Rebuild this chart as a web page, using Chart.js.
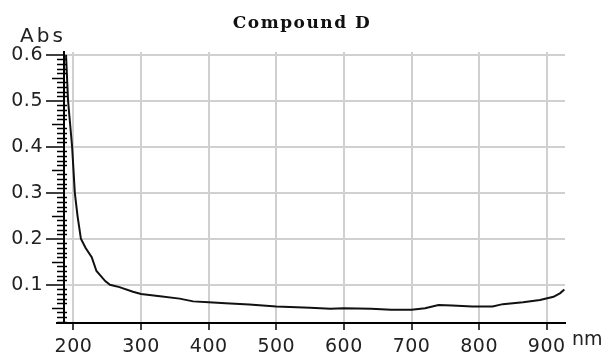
<!DOCTYPE html>
<html><head><meta charset="utf-8">
<script src="https://cdn.jsdelivr.net/npm/chart.js@4"></script>
<style>html,body{margin:0;padding:0;background:#fff;overflow:hidden}#wrap{width:608px;height:361px;position:relative}</style>
</head><body><div id="wrap"><canvas id="c"></canvas></div>
<script>
const chartTitle = 'Compound D';
const yAxisLabel = 'Abs';
const xAxisLabel = 'nm';
const wavelengths = [189,192,195,198,202,206,211,218,227,234,240,247,254,268,288,300,328,357,377,400,425,460,500,550,580,600,640,670,700,720,740,760,790,820,835,865,890,910,920,926];
const absorbance  = [0.600,0.500,0.450,0.400,0.300,0.250,0.200,0.180,0.160,0.130,0.120,0.108,0.100,0.095,0.085,0.080,0.075,0.070,0.064,0.062,0.060,0.057,0.053,0.050,0.048,0.049,0.048,0.046,0.046,0.049,0.056,0.055,0.053,0.053,0.058,0.062,0.067,0.074,0.082,0.090];
const xTicks = [200,300,400,500,600,700,800,900];
const xTickLabels = ['200','300','400','500','600','700','800','900'];
const yTicks = [0.1,0.2,0.3,0.4,0.5,0.6];
const yTickLabels = ['0.1','0.2','0.3','0.4','0.5','0.6'];

const tickFont = {family:'"DejaVu Sans", sans-serif', size:19};

const extras = {
  id:'extras',
  beforeLayout(chart){ chart.ctx.letterSpacing = '0.5px'; },
  beforeDraw(chart){ chart.ctx.letterSpacing = '0.5px'; },
  afterDraw(chart){
    const ctx = chart.ctx, ys = chart.scales.y;
    const left = chart.chartArea.left, bottom = chart.chartArea.bottom;
    ctx.save();
    ctx.strokeStyle = '#000';
    ctx.lineWidth = 1.5;
    for (let k = 2; k <= 60; k++) {
      if (k % 10 === 0) continue;
      const y = Math.round(ys.getPixelForValue(k/100)) + 0.5;
      ctx.beginPath();
      if (k % 5 === 0) { ctx.moveTo(left-12, y); ctx.lineTo(left, y); }
      else { ctx.moveTo(left-7, y); ctx.lineTo(left+3, y); }
      ctx.stroke();
    }
    ctx.lineWidth = 2;
    ctx.beginPath(); ctx.moveTo(left-8, bottom); ctx.lineTo(left, bottom); ctx.stroke();
    ctx.fillStyle = '#222';
    ctx.textAlign = 'left'; ctx.textBaseline = 'alphabetic';
    ctx.letterSpacing = '3px';
    ctx.font = '20px "DejaVu Sans", sans-serif';
    ctx.fillText(yAxisLabel, 20, 41.5);
    ctx.letterSpacing = '0px';
    ctx.font = '19px "DejaVu Sans", sans-serif';
    ctx.fillText(xAxisLabel, 572, 345);
    ctx.fillStyle = '#111';
    ctx.letterSpacing = '1.5px';
    ctx.font = 'bold 17px "DejaVu Serif", serif';
    ctx.textAlign = 'center';
    ctx.fillText(chartTitle, 302, 27.5);
    ctx.restore();
  }
};

new Chart(document.getElementById('c'), {
  type:'line',
  data:{ datasets:[{
    data: wavelengths.map((w,i)=>({x:w, y:absorbance[i]})),
    borderColor:'#111', borderWidth:2, pointRadius:0, tension:0, fill:false
  }]},
  options:{
    responsive:true, maintainAspectRatio:false, animation:false,
    layout:{padding:{left:0, right:43, top:52, bottom:0}},
    plugins:{legend:{display:false}, title:{display:false}, tooltip:{enabled:false}},
    scales:{
      x:{ type:'linear', min:186, max:927,
        afterBuildTicks(ax){ ax.ticks = xTicks.map(v=>({value:v})); },
        afterFit(ax){ ax.height = 38; },
        ticks:{ font:tickFont, color:'#222', padding:6, maxRotation:0,
          callback:(v)=>{ const i = xTicks.indexOf(v); return i>=0 ? xTickLabels[i] : ''; } },
        grid:{ color:'#d0d0d0', lineWidth:2, tickColor:'#000', tickWidth:1.5, tickLength:7 },
        border:{ color:'#000', width:2 }
      },
      y:{ type:'linear', min:0.017, max:0.606,
        afterBuildTicks(ax){ ax.ticks = yTicks.map(v=>({value:v})); },
        afterFit(ax){ ax.width = 64; },
        ticks:{ font:tickFont, color:'#222', padding:3,
          callback:(v)=>{ const i = yTicks.findIndex(t=>Math.abs(t-v)<1e-9); return i>=0 ? yTickLabels[i] : ''; } },
        grid:{ color:'#d0d0d0', lineWidth:2, tickColor:'#000', tickWidth:1.5, tickLength:18 },
        border:{ color:'#000', width:2 }
      }
    }
  },
  plugins:[extras]
});
</script></body></html>
